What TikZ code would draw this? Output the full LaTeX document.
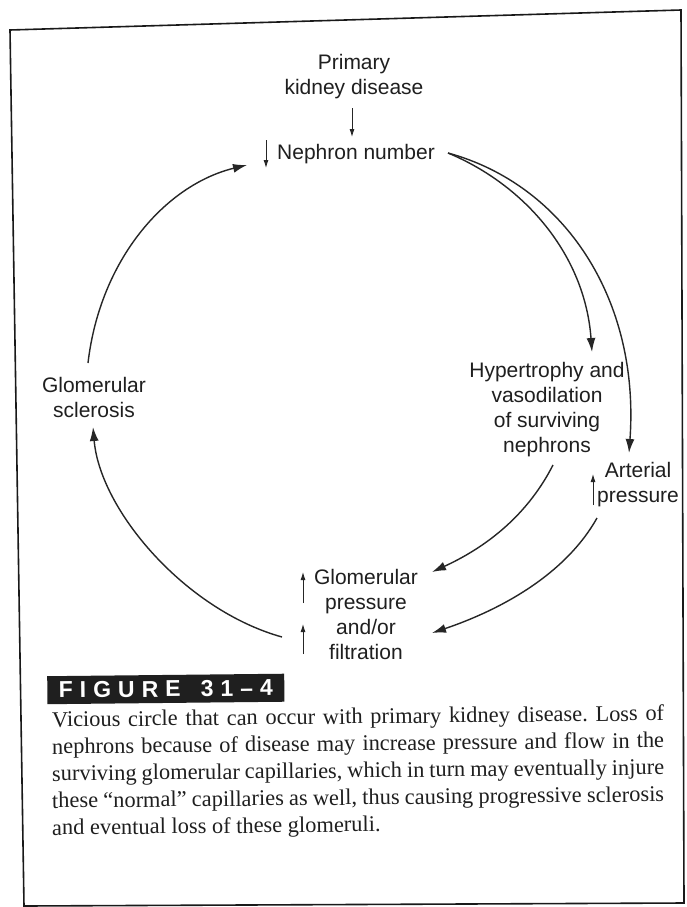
\documentclass[tikz,border=0pt]{standalone}
\usepackage{fontspec}
\setmainfont{Liberation Serif}
\newfontfamily\diagfont{Liberation Sans}
\usetikzlibrary{arrows.meta}
\newcommand\lsp{\hspace{7pt}}
\tikzset{
  lbl/.style={font=\diagfont\fontsize{21}{25}\selectfont, align=center, inner sep=0pt, text=black!88},
  curvearrow/.style={line width=1.4pt, draw=black!85, -{Latex[length=14pt,width=9pt]}},
  tickarrow/.style={line width=0.9pt, draw=black!85, -{Latex[length=8pt,width=5pt]}},
  capline/.style={font=\fontsize{22.4}{27}\selectfont\frenchspacing, inner sep=0pt, anchor=base west, rotate=0.6, text=black!88},
  framebox/.style={line width=1.6pt, draw=black!90},
  figlabel/.style={fill=black!88, text=white, font=\diagfont\bfseries\fontsize{23}{23}\selectfont,
    minimum width=237pt, minimum height=28pt, inner sep=0pt, anchor=north west, rotate=0.6}
}
\begin{document}
\begin{tikzpicture}[x=1pt,y=-1pt]
\useasboundingbox (0,0) rectangle (686,907);
\fill[white] (0,0) rectangle (686,907);
% frame
\draw[framebox] (10,30) -- (681,10) -- (684,903) -- (24,906) -- cycle;

% labels
\node[lbl, anchor=north] (prim) at (354,54) {Primary\\kidney disease};
\node[lbl, anchor=base west] (neph) at (277,159) {Nephron number};
\node[lbl, anchor=north] (hyp) at (547,362) {Hypertrophy and\\vasodilation\\of surviving\\nephrons};
\node[lbl, anchor=north] (art) at (638,462) {Arterial\\pressure};
\node[lbl, anchor=north] (gpf) at (366,569) {Glomerular\\pressure\\and/or\\filtration};
\node[lbl, anchor=north] (gs) at (94,377) {Glomerular\\sclerosis};

% connector end points
\coordinate (p1) at (352,108);
\coordinate (p2) at (352,137);
\coordinate (nd1) at (266,140);
\coordinate (nd2) at (266,168);
\coordinate (au1) at (593,505);
\coordinate (au2) at (593,474);
\coordinate (gu1) at (303,603);
\coordinate (gu2) at (303,572);
\coordinate (gu3) at (303,654);
\coordinate (gu4) at (303,624);

\coordinate (nOut) at (448,153);
\coordinate (hIn) at (592,352);
\coordinate (aIn) at (629,453);
\coordinate (hOut) at (553,465);
\coordinate (gIn1) at (432,572);
\coordinate (aOut) at (597,518);
\coordinate (gIn2) at (432,633);
\coordinate (gOut) at (282,637);
\coordinate (sIn) at (93,427);
\coordinate (sOut) at (88,363);
\coordinate (nIn) at (247,165);

% small arrows
\draw[tickarrow] (p1) -- (p2);
\draw[tickarrow] (nd1) -- (nd2);
\draw[tickarrow] (au1) -- (au2);
\draw[tickarrow] (gu1) -- (gu2);
\draw[tickarrow] (gu3) -- (gu4);

% cycle arrows
\draw[curvearrow] (nOut) .. controls (525,185) and (585,255) .. (hIn);
\draw[curvearrow] (nOut) .. controls (565,185) and (640,300) .. (aIn);
\draw[curvearrow] (hOut) .. controls (525,520) and (480,550) .. (gIn1);
\draw[curvearrow] (aOut) .. controls (565,575) and (500,610) .. (gIn2);
\draw[curvearrow] (gOut) .. controls (185,610) and (100,510) .. (sIn);
\draw[curvearrow] (sOut) .. controls (100,260) and (165,185) .. (nIn);

% caption
\node[figlabel] (fig) at (47,676) {F\lsp I\lsp G\lsp U\lsp R\lsp E\hspace{20pt}3\lsp 1\lsp –\lsp 4};
\node[capline] (c1) at (52,727) {\makebox[612pt][s]{Vicious circle that can occur with primary kidney disease. Loss of}};
\node[capline] (c2) at (52,754) {\makebox[612pt][s]{nephrons because of disease may increase pressure and flow in the}};
\node[capline] (c3) at (52,781) {\makebox[612pt][s]{surviving glomerular capillaries, which in turn may eventually injure}};
\node[capline] (c4) at (52,808) {\makebox[612pt][s]{these “normal” capillaries as well, thus causing progressive sclerosis}};
\node[capline] (c5) at (52,835) {and eventual loss of these glomeruli.};
\end{tikzpicture}
\end{document}
